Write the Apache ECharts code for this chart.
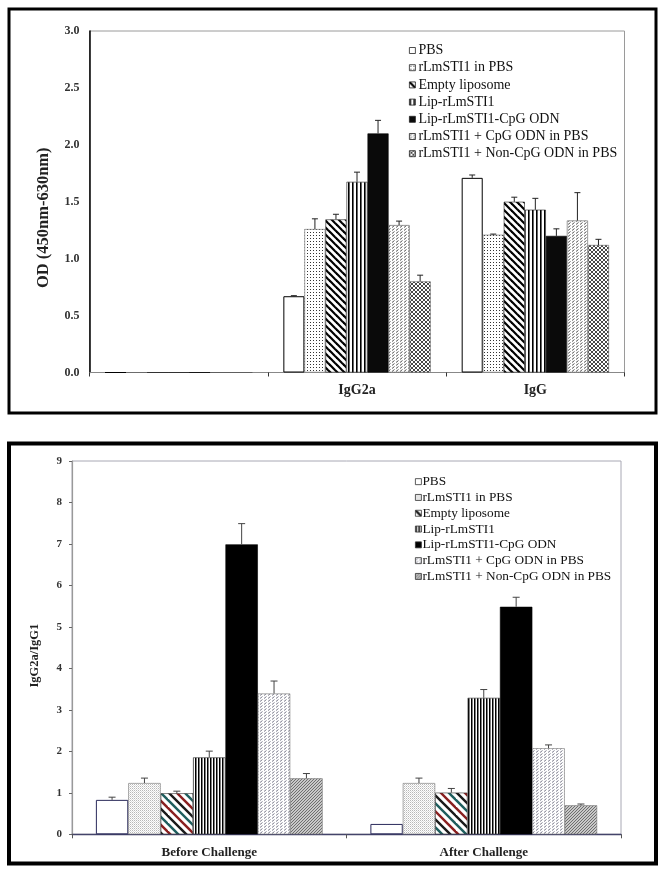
<!DOCTYPE html>
<html>
<head>
<meta charset="utf-8">
<script src="https://cdn.jsdelivr.net/npm/echarts/dist/echarts.min.js"></script>
<style>
html,body{margin:0;padding:0;background:#fff;}
#chart{width:663px;height:873px;}
</style>
</head>
<body>
<div id="chart"></div>
<script>
// ---------- DATA ----------
const seriesNames = ['PBS', 'rLmSTI1 in PBS', 'Empty liposome', 'Lip-rLmSTI1',
  'Lip-rLmSTI1-CpG ODN', 'rLmSTI1 + CpG ODN in PBS', 'rLmSTI1 + Non-CpG ODN in PBS'];

// Top panel: OD (450nm-630nm)
const odCategories = ['', 'IgG2a', 'IgG'];
const odBlankMean = [0, 0, 0, 0, 0, 0, 0];
const odBlankSD   = [0, 0, 0, 0, 0, 0, 0];
const odIgG2aMean = [0.67, 1.26, 1.345, 1.675, 2.10, 1.295, 0.80];
const odIgG2aSD   = [0.005, 0.09, 0.045, 0.085, 0.115, 0.035, 0.055];
const odIgGMean   = [1.71, 1.21, 1.50, 1.43, 1.20, 1.335, 1.12];
const odIgGSD     = [0.025, 0.006, 0.04, 0.10, 0.062, 0.245, 0.05];
const odTicks = [0.0, 0.5, 1.0, 1.5, 2.0, 2.5, 3.0];

// Bottom panel: IgG2a/IgG1 ratio
const ratioCategories = ['Before Challenge', 'After Challenge'];
const ratioBeforeMean = [0.83, 1.235, 0.99, 1.855, 6.99, 3.395, 1.35];
const ratioBeforeSD   = [0.065, 0.12, 0.05, 0.15, 0.50, 0.30, 0.115];
const ratioAfterMean  = [0.25, 1.235, 1.005, 3.29, 5.485, 2.075, 0.70];
const ratioAfterSD    = [0, 0.12, 0.10, 0.20, 0.23, 0.08, 0.03];
const ratioTicks = [0, 1, 2, 3, 4, 5, 6, 7, 8, 9];

// ---------- STYLES ----------
const FONT = 'Liberation Serif';
const GAP = 0.174;

function pat(w, h, draw) {
  const c = document.createElement('canvas');
  c.width = w; c.height = h;
  const ctx = c.getContext('2d');
  ctx.fillStyle = '#fff';
  ctx.fillRect(0, 0, w, h);
  draw(ctx, w, h);
  return { image: c, repeat: 'repeat' };
}
function diag(ctx, w, lw, colors, period) {
  // "\" stripes: lines y = x + k
  ctx.lineWidth = lw;
  for (let k = -2 * w; k <= 2 * w; k += period) {
    const idx = ((Math.round(k / period) % colors.length) + colors.length) % colors.length;
    ctx.strokeStyle = colors[idx];
    ctx.beginPath();
    ctx.moveTo(-w, -w + k);
    ctx.lineTo(2 * w, 2 * w + k);
    ctx.stroke();
  }
}

const topFills = [
  '#ffffff',
  pat(3, 3, (c) => { c.fillStyle = '#333'; c.fillRect(1, 1, 1, 1); }),
  pat(7, 7, (c, w) => diag(c, w, 2.2, ['#000'], 7)),
  pat(4, 4, (c) => { c.fillStyle = '#000'; c.fillRect(0, 0, 1.6, 4); }),
  '#0a0a0a',
  pat(4, 3, (c) => { c.strokeStyle = '#444'; c.lineWidth = 0.9; c.beginPath(); c.moveTo(0, 2.5); c.lineTo(2.5, 0.5); c.stroke(); }),
  pat(4, 4, (c) => { c.strokeStyle = '#333'; c.lineWidth = 0.9; c.beginPath(); c.moveTo(0, 0); c.lineTo(4, 4); c.moveTo(4, 0); c.lineTo(0, 4); c.stroke(); })
];
const topBorders = ['#000', '#666', '#222', '#222', '#000', '#555', '#555'];

const botFills = [
  '#ffffff',
  pat(2, 2, (c) => { c.fillStyle = '#b8b8b8'; c.fillRect(0, 0, 1, 1); c.fillStyle = '#dcdcdc'; c.fillRect(1, 1, 1, 1); }),
  pat(24, 24, (c, w) => diag(c, w, 2.4, ['#1a1a1a', '#1e5e5e', '#8a1f1f'], 8)),
  pat(3, 3, (c) => { c.fillStyle = '#000'; c.fillRect(0, 0, 1.5, 3); }),
  '#000000',
  pat(4, 3, (c) => { c.strokeStyle = '#7c7c8c'; c.lineWidth = 1; c.beginPath(); c.moveTo(0, 2.5); c.lineTo(2.5, 0.5); c.stroke(); }),
  pat(3, 3, (c) => { c.fillStyle = '#c8c8c8'; c.fillRect(0, 0, 3, 3); c.fillStyle = '#6e6e6e'; c.fillRect(0, 0, 1, 1); c.fillRect(2, 1, 1, 1); c.fillRect(1, 2, 1, 1); })
];
const botBorders = ['#2a2a5a', '#777', '#333', '#333', '#000', '#777', '#777'];

// ---------- SERIES ----------
function errRender(nSeries, color, capHalf) {
  return function (params, api) {
    const cat = api.value(0), mean = api.value(1), sd = api.value(2), si = api.value(3);
    if (!(sd > 0)) return null;
    const base = api.coord([cat, mean]);
    const top = api.coord([cat, mean + sd]);
    const bw = api.size([1, 0])[0];
    const gw = bw * (1 - GAP);
    const x = base[0] - gw / 2 + (si + 0.5) * gw / nSeries;
    return {
      type: 'group',
      children: [
        { type: 'line', shape: { x1: x, y1: base[1], x2: x, y2: top[1] }, style: { stroke: color, lineWidth: 1 } },
        { type: 'line', shape: { x1: x - capHalf, y1: top[1], x2: x + capHalf, y2: top[1] }, style: { stroke: color, lineWidth: 1 } }
      ]
    };
  };
}

const series = [];
const topErrData = [];
const botErrData = [];
seriesNames.forEach((name, i) => {
  series.push({
    name: name, type: 'bar', xAxisIndex: 0, yAxisIndex: 0,
    barGap: '0%', barCategoryGap: (GAP * 100) + '%',
    data: [odBlankMean[i], odIgG2aMean[i], odIgGMean[i]],
    itemStyle: { color: topFills[i], borderColor: topBorders[i], borderWidth: i === 0 ? 1 : 0.6 },
    emphasis: { disabled: true }, animation: false
  });
  topErrData.push([0, odBlankMean[i], odBlankSD[i], i]);
  topErrData.push([1, odIgG2aMean[i], odIgG2aSD[i], i]);
  topErrData.push([2, odIgGMean[i], odIgGSD[i], i]);
});
seriesNames.forEach((name, i) => {
  series.push({
    name: name, type: 'bar', xAxisIndex: 1, yAxisIndex: 1,
    barGap: '0%', barCategoryGap: (GAP * 100) + '%',
    data: [ratioBeforeMean[i], ratioAfterMean[i]],
    itemStyle: { color: botFills[i], borderColor: botBorders[i], borderWidth: i === 0 ? 1 : 0.6 },
    emphasis: { disabled: true }, animation: false
  });
  botErrData.push([0, ratioBeforeMean[i], ratioBeforeSD[i], i]);
  botErrData.push([1, ratioAfterMean[i], ratioAfterSD[i], i]);
});
series.push({
  type: 'custom', xAxisIndex: 0, yAxisIndex: 0, z: 5, animation: false,
  renderItem: errRender(seriesNames.length, '#222', 3),
  encode: { x: 0, y: 1 }, data: topErrData
});
series.push({
  type: 'custom', xAxisIndex: 1, yAxisIndex: 1, z: 5, animation: false,
  renderItem: errRender(seriesNames.length, '#444', 3.5),
  encode: { x: 0, y: 1 }, data: botErrData
});

const chart = echarts.init(document.getElementById('chart'), null, { renderer: 'canvas' });
chart.setOption({
  animation: false,
  backgroundColor: '#fff',
  grid: [
    { left: 89.5, right: 38.5, top: 31, bottom: 500.5, show: true, borderColor: '#9a9a9a', borderWidth: 1, containLabel: false },
    { left: 72, right: 42, top: 461, bottom: 38.7, show: true, borderColor: '#a8a8b4', borderWidth: 1, containLabel: false }
  ],
  xAxis: [
    {
      type: 'category', gridIndex: 0, data: odCategories,
      axisLine: { lineStyle: { color: '#888', width: 1 } },
      axisTick: { show: true, length: 4, lineStyle: { color: '#333' } },
      axisLabel: { fontFamily: FONT, fontWeight: 'bold', fontSize: 14, color: '#222', margin: 11 },
      splitLine: { show: false }
    },
    {
      type: 'category', gridIndex: 1, data: ratioCategories,
      axisLine: { lineStyle: { color: '#44446a', width: 1.3 } },
      axisTick: { show: true, length: 4, lineStyle: { color: '#555' } },
      axisLabel: { fontFamily: FONT, fontWeight: 'bold', fontSize: 13, color: '#222', margin: 12 },
      splitLine: { show: false }
    }
  ],
  yAxis: [
    {
      type: 'value', gridIndex: 0, min: odTicks[0], max: odTicks[odTicks.length - 1], interval: odTicks[1] - odTicks[0],
      name: 'OD (450nm-630nm)', nameLocation: 'middle', nameGap: 37,
      nameTextStyle: { fontFamily: FONT, fontWeight: 'bold', fontSize: 16.5, color: '#222', padding: [0, 32, 0, 0] },
      axisLine: { show: true, lineStyle: { color: '#000', width: 1.5 } },
      axisTick: { show: false },
      axisLabel: { fontFamily: FONT, fontWeight: 'bold', fontSize: 12, color: '#333', margin: 10, formatter: (v) => v.toFixed(1) },
      splitLine: { show: false }
    },
    {
      type: 'value', gridIndex: 1, min: ratioTicks[0], max: ratioTicks[ratioTicks.length - 1], interval: ratioTicks[1] - ratioTicks[0],
      name: 'IgG2a/IgG1', nameLocation: 'middle', nameGap: 31,
      nameTextStyle: { fontFamily: FONT, fontWeight: 'bold', fontSize: 12.5, color: '#222', padding: [0, 16, 0, 0] },
      axisLine: { show: true, lineStyle: { color: '#999', width: 1.2 } },
      axisTick: { show: true, length: 3, lineStyle: { color: '#666' } },
      axisLabel: { fontFamily: FONT, fontWeight: 'bold', fontSize: 11, color: '#333', margin: 10 },
      splitLine: { show: false }
    }
  ],
  legend: [
    {
      orient: 'vertical', left: 409, top: 43.5, padding: 0, icon: 'rect', itemWidth: 6, itemHeight: 6, itemGap: 3.2,
      textStyle: { fontFamily: FONT, fontSize: 14, color: '#111', lineHeight: 14, padding: [0, 0, 0, -2] },
      data: seriesNames.map((n, i) => ({ name: n, itemStyle: { color: topFills[i], borderColor: '#222', borderWidth: 0.8 } })),
      selectedMode: false
    },
    {
      orient: 'vertical', left: 415, top: 475, padding: 0, icon: 'rect', itemWidth: 6, itemHeight: 6, itemGap: 2.5,
      textStyle: { fontFamily: FONT, fontSize: 13.3, color: '#111', lineHeight: 13.3, padding: [0, 0, 0, -4] },
      data: seriesNames.map((n, i) => ({ name: n, itemStyle: { color: botFills[i], borderColor: '#333', borderWidth: 0.8 } })),
      selectedMode: false
    }
  ],
  graphic: [
    { type: 'rect', silent: true, z: 100, shape: { x: 9, y: 9, width: 647, height: 404 }, style: { fill: 'transparent', stroke: '#000', lineWidth: 3 } },
    { type: 'rect', silent: true, z: 100, shape: { x: 9, y: 443.5, width: 647, height: 420 }, style: { fill: 'transparent', stroke: '#000', lineWidth: 4 } }
  ],
  series: series
});
</script>
</body>
</html>
